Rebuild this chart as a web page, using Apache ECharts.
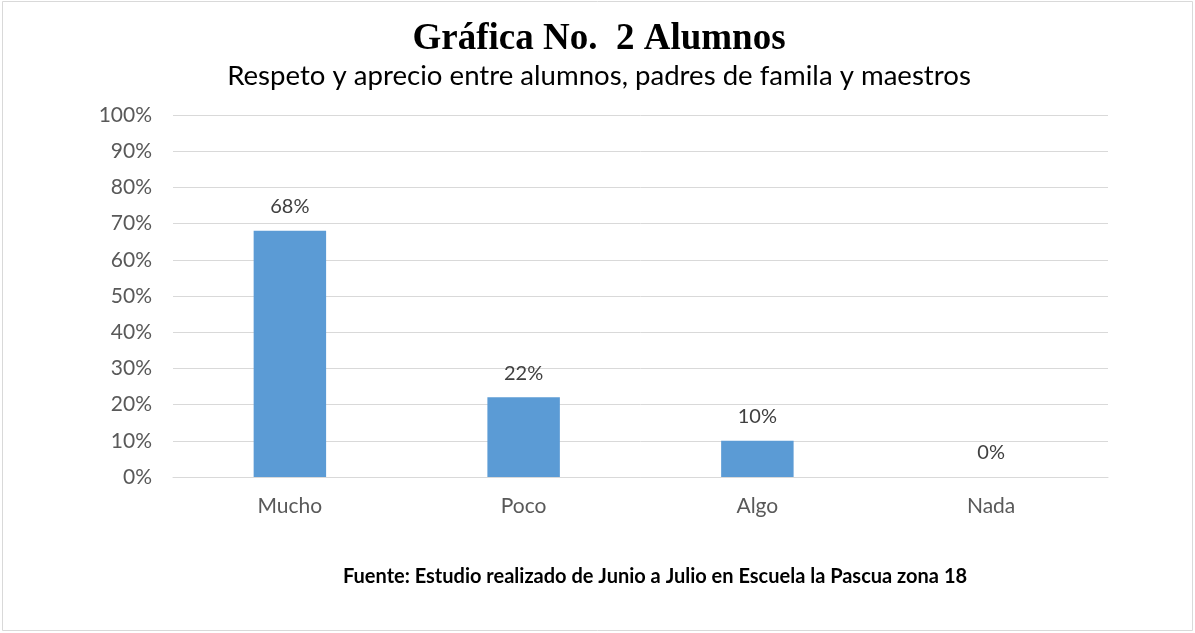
<!DOCTYPE html>
<html>
<head>
<meta charset="utf-8">
<script src="https://cdn.jsdelivr.net/npm/echarts@6/dist/echarts.min.js"></script>
<style>
html,body{margin:0;padding:0;background:#fff;}
#chart{width:1195px;height:633px;}
</style>
</head>
<body>
<div id="chart"></div>
<script>
const categories = ['Mucho', 'Poco', 'Algo', 'Nada'];
const values = [68, 22, 10, 0];
const yTicks = [0, 10, 20, 30, 40, 50, 60, 70, 80, 90, 100];
const titleText = 'Gráfica No.  2 Alumnos';
const subtitleText = 'Respeto y aprecio entre alumnos, padres de famila y maestros';
const sourceText = 'Fuente: Estudio realizado de Junio a Julio en Escuela la Pascua zona 18';

const chart = echarts.init(document.getElementById('chart'), null, {renderer: 'canvas'});
const font = 'Lato, "Open Sans", sans-serif';
chart.setOption({
  backgroundColor: '#fff',
  animation: false,
  graphic: [
    {type: 'rect', shape: {x: 2.5, y: 1.5, width: 1190, height: 629}, style: {fill: 'none', stroke: '#D9D9D9', lineWidth: 1}, silent: true},
    {type: 'text', x: 599, y: 39, style: {text: titleText, font: 'bold 37px "Liberation Serif", serif', fill: '#000', textAlign: 'center', textVerticalAlign: 'middle'}},
    {type: 'text', x: 599, y: 76, style: {text: subtitleText, font: '27.6px ' + font, fill: '#000', textAlign: 'center', textVerticalAlign: 'middle'}},
    {type: 'text', x: 655, y: 577, style: {text: sourceText, font: 'bold 20px ' + font, fill: '#000', textAlign: 'center', textVerticalAlign: 'middle'}}
  ],
  grid: {left: 173, right: 87, top: 115, bottom: 156, containLabel: false},
  xAxis: {
    type: 'category',
    data: categories,
    axisLine: {show: true, lineStyle: {color: '#D9D9D9', width: 1}},
    axisTick: {show: false},
    axisLabel: {color: '#595959', fontSize: 21, fontFamily: font, margin: 19}
  },
  yAxis: {
    type: 'value',
    min: 0, max: 100, interval: 10,
    axisLine: {show: false},
    axisTick: {show: false},
    splitLine: {lineStyle: {color: '#D9D9D9', width: 1}},
    axisLabel: {color: '#595959', fontSize: 21, fontFamily: font, margin: 21,
      formatter: v => yTicks.includes(v) ? v + '%' : ''}
  },
  series: [{
    type: 'bar',
    data: values,
    barWidth: '31%',
    itemStyle: {color: '#5B9BD5'},
    label: {show: true, position: 'top', distance: 14, color: '#404040', fontSize: 20, fontFamily: font, formatter: p => p.value + '%'}
  }]
});
</script>
</body>
</html>
